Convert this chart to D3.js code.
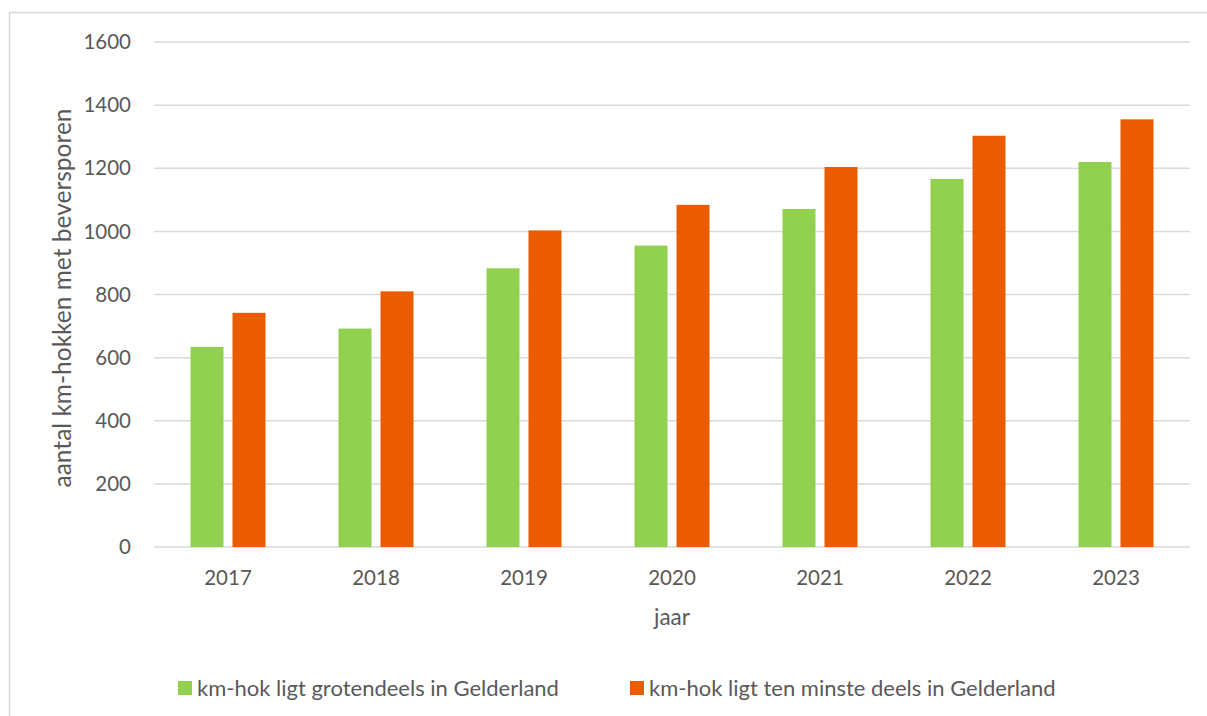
<!DOCTYPE html>
<html>
<head>
<meta charset="utf-8">
<script src="https://cdn.jsdelivr.net/npm/d3@7"></script>
<style>
  body { margin: 0; background: #fff; }
  svg text { font-family: Lato, "Open Sans", sans-serif; fill: #595959; }
</style>
</head>
<body>
<svg id="chart" width="1207" height="716"></svg>
<script>
const years = ["2017", "2018", "2019", "2020", "2021", "2022", "2023"]
const seriesNames = ["km-hok ligt grotendeels in Gelderland", "km-hok ligt ten minste deels in Gelderland"]
const grotendeels = [634, 692, 883, 955, 1071, 1166, 1220]
const tenMinste = [742, 810, 1003, 1084, 1204, 1303, 1355]
const yTicks = [0, 200, 400, 600, 800, 1000, 1200, 1400, 1600]
const colors = ["#92d050", "#eb5b00"]

const svg = d3.select('#chart')
const W = 1207, H = 716
const plot = { left: 154, right: 1190, top: 42, bottom: 547 }

// chart frame (bottom edge is off the picture)
svg.append('path')
  .attr('d', `M9.5,${H + 5} V12.5 H${W + 5}`)
  .attr('fill', 'none')
  .attr('stroke', '#d9d9d9')
  .attr('stroke-width', 1.5)

const y = d3.scaleLinear().domain([0, 1600]).range([plot.bottom, plot.top])
const x0 = d3.scaleBand().domain(years).range([plot.left, plot.right])
  .paddingInner(73 / 148).paddingOuter(73 / 296)
const x1 = d3.scaleBand().domain([0, 1]).range([0, x0.bandwidth()]).paddingInner(9 / 42)

// gridlines
svg.append('g')
  .selectAll('line')
  .data(yTicks)
  .join('line')
  .attr('x1', plot.left)
  .attr('x2', plot.right)
  .attr('y1', d => y(d))
  .attr('y2', d => y(d))
  .attr('stroke', '#d9d9d9')
  .attr('stroke-width', 1.5)

// y tick labels
svg.append('g')
  .selectAll('text')
  .data(yTicks)
  .join('text')
  .attr('x', 131)
  .attr('y', d => y(d))
  .attr('dy', '0.35em')
  .attr('text-anchor', 'end')
  .style('font-size', '20.5px')
  .text(d => d)

const rows = years.map((yr, i) => ({ year: yr, values: [grotendeels[i], tenMinste[i]] }))

svg.append('g')
  .selectAll('g')
  .data(rows)
  .join('g')
  .attr('transform', d => `translate(${x0(d.year)},0)`)
  .selectAll('rect')
  .data(d => d.values.map((v, k) => ({ k, v })))
  .join('rect')
  .attr('x', d => x1(d.k))
  .attr('width', x1.bandwidth())
  .attr('y', d => y(d.v))
  .attr('height', d => y(0) - y(d.v))
  .attr('fill', d => colors[d.k])

// x tick labels
svg.append('g')
  .selectAll('text')
  .data(years)
  .join('text')
  .attr('x', d => x0(d) + x0.bandwidth() / 2)
  .attr('y', 578)
  .attr('dy', '0.35em')
  .attr('text-anchor', 'middle')
  .style('font-size', '20.5px')
  .text(d => d)

// axis titles
svg.append('text')
  .attr('x', (plot.left + plot.right) / 2)
  .attr('y', 617)
  .attr('dy', '0.35em')
  .attr('text-anchor', 'middle')
  .style('font-size', '22.5px')
  .text('jaar')

svg.append('text')
  .attr('transform', `translate(62,298) rotate(-90)`)
  .attr('dy', '0.35em')
  .attr('text-anchor', 'middle')
  .style('font-size', '24.5px')
  .text('aantal km-hokken met beversporen')

// legend
const legendX = [178, 630]
const legend = svg.append('g')
  .selectAll('g')
  .data(seriesNames)
  .join('g')
  .attr('transform', (d, i) => `translate(${legendX[i]},681)`)

legend.append('rect')
  .attr('width', 14)
  .attr('height', 14)
  .attr('fill', (d, i) => colors[i])

legend.append('text')
  .attr('x', 19)
  .attr('y', 7)
  .attr('dy', '0.35em')
  .style('font-size', '22px')
  .text(d => d)
</script>
</body>
</html>
